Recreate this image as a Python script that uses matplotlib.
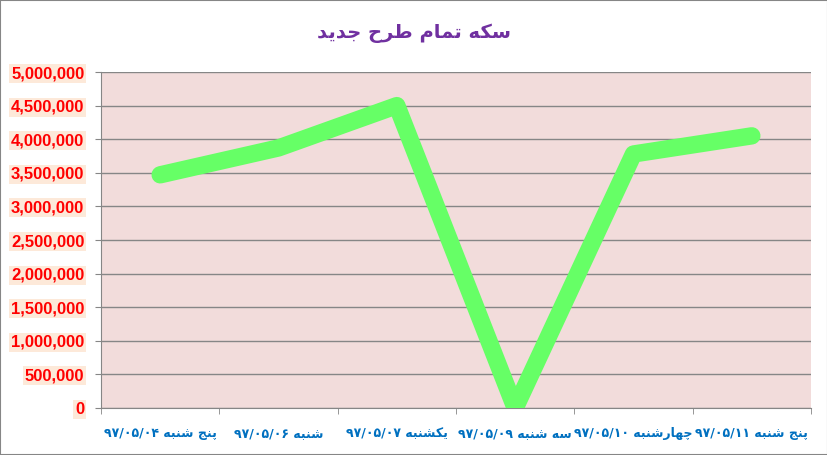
import matplotlib
matplotlib.use("Agg")
import matplotlib.pyplot as plt
from matplotlib.patches import Rectangle
from matplotlib.ticker import FuncFormatter

# Data
title = "سکه تمام طرح جدید"
day_names = ["پنج شنبه", "شنبه", "یکشنبه", "سه شنبه", "چهارشنبه", "پنج شنبه"]
dates = ["۹۷/۰۵/۰۴", "۹۷/۰۵/۰۶", "۹۷/۰۵/۰۷", "۹۷/۰۵/۰۹", "۹۷/۰۵/۱۰", "۹۷/۰۵/۱۱"]
prices = [3470000, 3870000, 4500000, 0, 3780000, 4050000]
y_ticks = list(range(0, 5000001, 500000))

# Arabic/Persian presentation forms: (isolated, final, initial, medial)
FORMS = {
    "ا": ("\uFE8D", "\uFE8E", None, None),
    "د": ("\uFEA9", "\uFEAA", None, None),
    "ر": ("\uFEAD", "\uFEAE", None, None),
    "ب": ("\uFE8F", "\uFE90", "\uFE91", "\uFE92"),
    "ت": ("\uFE95", "\uFE96", "\uFE97", "\uFE98"),
    "ج": ("\uFE9D", "\uFE9E", "\uFE9F", "\uFEA0"),
    "ح": ("\uFEA1", "\uFEA2", "\uFEA3", "\uFEA4"),
    "س": ("\uFEB1", "\uFEB2", "\uFEB3", "\uFEB4"),
    "ش": ("\uFEB5", "\uFEB6", "\uFEB7", "\uFEB8"),
    "ط": ("\uFEC1", "\uFEC2", "\uFEC3", "\uFEC4"),
    "م": ("\uFEE1", "\uFEE2", "\uFEE3", "\uFEE4"),
    "ن": ("\uFEE5", "\uFEE6", "\uFEE7", "\uFEE8"),
    "ه": ("\uFEE9", "\uFEEA", "\uFEEB", "\uFEEC"),
    "پ": ("\uFB56", "\uFB57", "\uFB58", "\uFB59"),
    "چ": ("\uFB7A", "\uFB7B", "\uFB7C", "\uFB7D"),
    "ک": ("\uFB8E", "\uFB8F", "\uFB90", "\uFB91"),
    "ی": ("\uFBFC", "\uFBFD", "\uFBFE", "\uFBFF"),
}


def shape(text):
    # join letters and reverse for left-to-right drawing
    out = []
    for i, ch in enumerate(text):
        if ch not in FORMS:
            out.append(ch)
            continue
        prev = text[i - 1] if i > 0 else ""
        nxt = text[i + 1] if i + 1 < len(text) else ""
        join_prev = prev in FORMS and FORMS[prev][2] is not None
        join_next = nxt in FORMS and FORMS[ch][2] is not None
        iso, fin, ini, med = FORMS[ch]
        if join_prev and join_next:
            out.append(med)
        elif join_prev:
            out.append(fin)
        elif join_next:
            out.append(ini)
        else:
            out.append(iso)
    return "".join(reversed(out))


x_labels = [d + " " + shape(n) for n, d in zip(day_names, dates)]
x = list(range(len(prices)))

fig = plt.figure(figsize=(8.28, 4.55), dpi=100)
fig.patches.append(Rectangle((0, 0), 1, 1, transform=fig.transFigure,
                             fill=False, edgecolor="#868686", linewidth=1.5))
ax = fig.add_axes([101 / 828, 47 / 455, 710 / 828, 336 / 455])
ax.set_facecolor("#F2DCDB")

ax.plot(x, prices, color="#66FF66", linewidth=12.5,
        solid_capstyle="round", solid_joinstyle="round", zorder=3)

ax.set_xlim(-0.5, len(prices) - 0.5)
ax.set_ylim(0, 5000000)
ax.set_yticks(y_ticks)
ax.yaxis.set_major_formatter(FuncFormatter(lambda v, p: f"{int(v):,}"))
ax.grid(axis="y", color="#868686", linewidth=1)
ax.set_axisbelow(True)

ax.set_xticks(x)
ax.set_xticklabels(x_labels, fontfamily="DejaVu Sans", fontweight="bold",
                   fontsize=9, color="#0070C0")
ax.set_xticks([i - 0.5 for i in range(len(prices) + 1)], minor=True)
ax.tick_params(axis="x", which="major", length=0, pad=14)
ax.tick_params(axis="x", which="minor", length=4, color="#868686")
ax.tick_params(axis="y", length=4, color="#868686", pad=8)

for lbl in ax.get_yticklabels():
    lbl.set_fontfamily("Liberation Sans")
    lbl.set_fontweight("bold")
    lbl.set_fontsize(12)
    lbl.set_color("#FF0000")
    lbl.set_bbox(dict(facecolor="#FDE9D9", edgecolor="none", pad=1.5))

for side in ["top", "right"]:
    ax.spines[side].set_visible(False)
for side in ["left", "bottom"]:
    ax.spines[side].set_color("#868686")

fig.text(0.5, 1 - 33 / 455, shape(title), ha="center", va="center",
         fontfamily="DejaVu Sans", fontweight="bold", fontsize=14,
         color="#7030A0")

fig.savefig("out.png", dpi=100)
